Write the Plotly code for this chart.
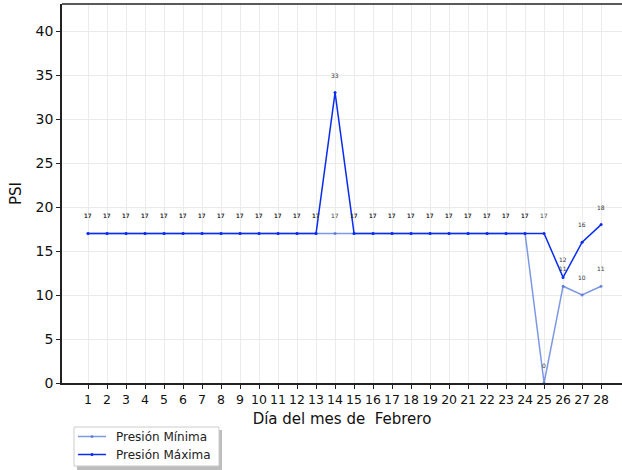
import plotly.graph_objects as go

days = list(range(1, 29))
presion_min = [17]*24 + [0, 11, 10, 11]
presion_max = [17]*13 + [33] + [17]*11 + [12, 16, 18]
x_ticks = [str(d) for d in days]
series_names = ["Presión Mínima", "Presión Máxima"]
series_colors = ["rgba(70,110,215,0.7)", "#0a2cf0"]

W, H = 622, 470
L, R, T, B = 62, 0, 4, 87
PW, PH = W - L - R, H - T - B
ymax = 43.07
px_per_unit = PH / ymax

def px(x):
    return (x - L) / PW

def py(y):
    return (H - B - y) / PH

fig = go.Figure()
for name, vals, col in zip(series_names, (presion_min, presion_max), series_colors):
    fig.add_trace(go.Scatter(
        x=days, y=vals, mode="lines+markers", name=name, showlegend=False,
        line=dict(color=col, width=1.5),
        marker=dict(size=3, color=col),
    ))

annotations = []
for series in (presion_min, presion_max):
    for d, v in zip(days, series):
        annotations.append(dict(
            x=d, y=v, xref="x", yref="y", text=str(v), showarrow=False,
            yshift=2 * px_per_unit, font=dict(size=6, color="#333", family="DejaVu Sans"),
        ))

# manual legend (matplotlib-like with shadow)
shapes = [
    dict(type="rect", xref="paper", yref="paper",
         x0=px(77), x1=px(222), y0=py(470), y1=py(430),
         fillcolor="#bdbdbd", line=dict(width=0), layer="above"),
    dict(type="rect", xref="paper", yref="paper",
         x0=px(74), x1=px(219), y0=py(466), y1=py(427),
         fillcolor="white", line=dict(color="#cccccc", width=1), layer="above"),
    dict(type="line", xref="paper", yref="paper", x0=0, x1=1, y0=1, y1=1,
         line=dict(color="#222", width=1.5)),
]
for i, (name, col) in enumerate(zip(series_names, series_colors)):
    yy = 436.5 + 18 * i
    shapes.append(dict(type="line", xref="paper", yref="paper",
                       x0=px(78), x1=px(106), y0=py(yy), y1=py(yy),
                       line=dict(color=col, width=1.5), layer="above"))
    shapes.append(dict(type="circle", xref="paper", yref="paper",
                       x0=px(90.5), x1=px(93.5), y0=py(yy + 1.5), y1=py(yy - 1.5),
                       fillcolor=col, line=dict(width=0), layer="above"))
    annotations.append(dict(x=px(114), y=py(yy), xref="paper", yref="paper",
                            xanchor="left", yanchor="middle", text=name, showarrow=False,
                            font=dict(size=12, family="DejaVu Sans", color="#222")))

fig.update_layout(
    width=W, height=H,
    margin=dict(l=L, r=R, t=T, b=B, autoexpand=False),
    paper_bgcolor="white", plot_bgcolor="white",
    font=dict(family="DejaVu Sans", color="#111"),
    annotations=annotations,
    showlegend=False,
    shapes=shapes,
    xaxis=dict(
        range=[-0.37, 29.1], tickmode="array", tickvals=days, ticktext=x_ticks,
        showgrid=True, gridcolor="#ebebeb", gridwidth=1,
        ticks="outside", ticklen=4, tickwidth=1, tickcolor="#222",
        showline=True, linecolor="#222", linewidth=1.5, mirror=False,
        tickfont=dict(size=12.5, family="DejaVu Sans", color="#111"),
        title=dict(text="Día del mes de \u00a0Febrero", font=dict(size=15, family="DejaVu Sans", color="#111"), standoff=8),
        zeroline=False, automargin=False,
    ),
    yaxis=dict(
        range=[0, ymax], tickmode="array", tickvals=list(range(0, 45, 5)),
        showgrid=True, gridcolor="#ebebeb", gridwidth=1,
        ticks="outside", ticklen=4, tickwidth=1, tickcolor="#222",
        showline=True, linecolor="#222", linewidth=1.5,
        tickfont=dict(size=14, family="DejaVu Sans", color="#111"),
        title=dict(text="PSI", font=dict(size=15, family="DejaVu Sans", color="#111"), standoff=10),
        zeroline=False, automargin=False,
    ),
)

fig.write_html("out.html", config={"displayModeBar": False},
               post_script="document.body.style.margin='0';document.body.style.overflow='hidden';")
